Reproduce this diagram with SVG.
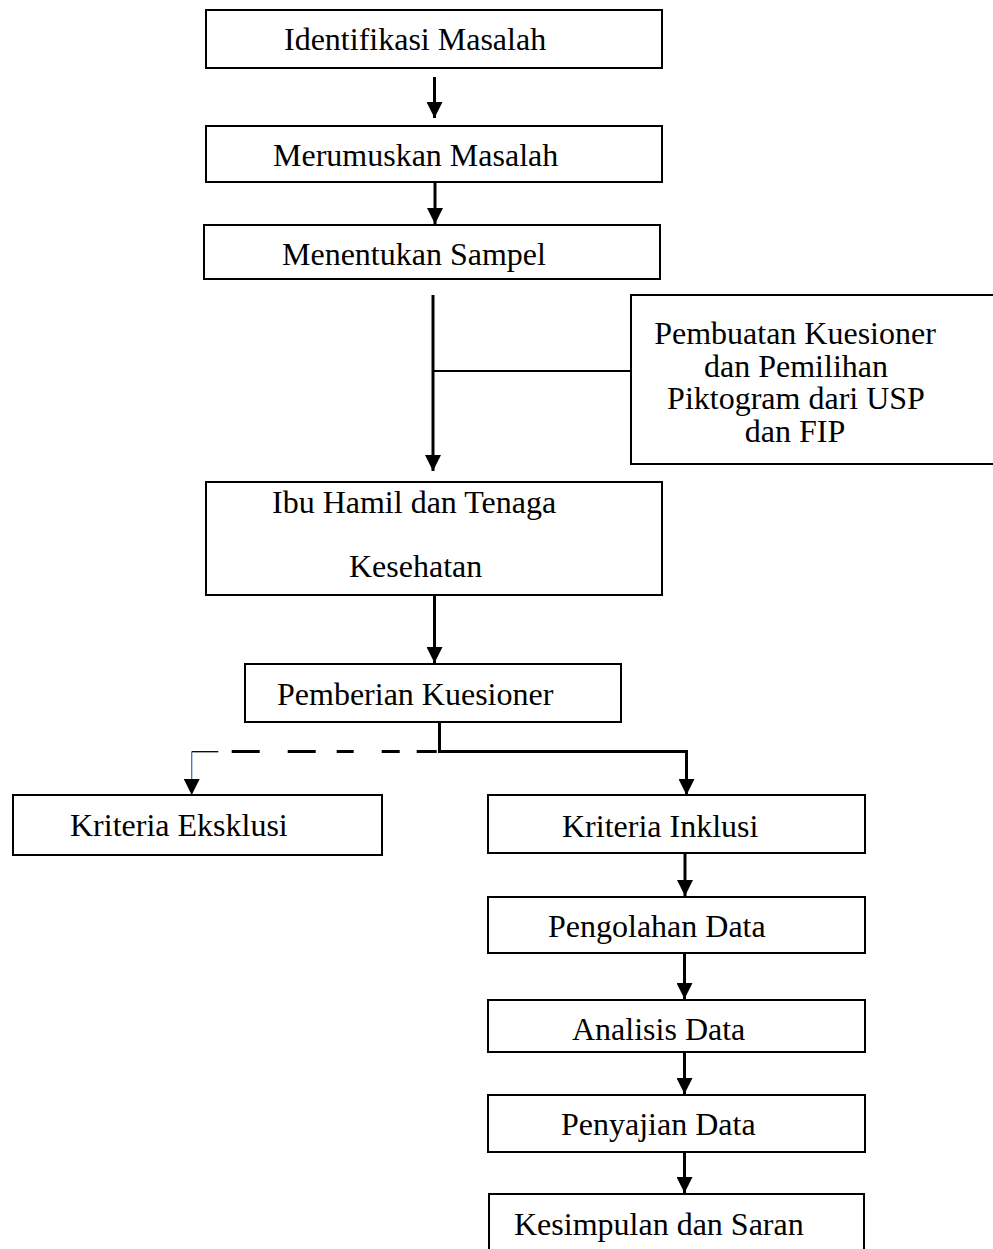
<svg xmlns="http://www.w3.org/2000/svg" width="993" height="1249" viewBox="0 0 993 1249">
<style>
.box{fill:#fff;stroke:#000;stroke-width:2}
.t{font-family:"Liberation Serif","Times New Roman",serif;font-size:32px;fill:#000}
.c{fill:none;stroke:#000;stroke-width:3}
.thin{fill:none;stroke:#000;stroke-width:1.3}
</style>
<defs>
<marker id="ah" markerUnits="userSpaceOnUse" markerWidth="16" markerHeight="16" refX="16" refY="8" orient="auto">
<path d="M0,0 L16,8 L0,16 z" fill="#000"/>
</marker>
</defs>
<rect width="993" height="1249" fill="#fff"/>
<g id="connectors">
<line class="c" x1="434.5" y1="77" x2="434.5" y2="118" marker-end="url(#ah)"/>
<line class="c" x1="435" y1="182" x2="435" y2="224" marker-end="url(#ah)"/>
<line class="c" x1="433" y1="295" x2="433" y2="471" marker-end="url(#ah)"/>
<line class="c" style="stroke-width:2" x1="433" y1="371" x2="631" y2="371"/>
<line class="c" x1="434.5" y1="595" x2="434.5" y2="663" marker-end="url(#ah)"/>
<path class="c" d="M439.5,722 V751.5 H686.5 V795" marker-end="url(#ah)"/>
<path class="c" d="M231.7,751.5 H437" stroke-dasharray="28 28 28 21 17 28 18 17 20 10"/>
<path class="thin" d="M218.3,751.7 H191.7"/>
<path class="thin" style="stroke:#4472C4" d="M191.7,751.7 V795" marker-end="url(#ah)"/>
<line class="c" x1="685" y1="854" x2="685" y2="896" marker-end="url(#ah)"/>
<line class="c" x1="684.5" y1="953" x2="684.5" y2="999" marker-end="url(#ah)"/>
<line class="c" x1="684.5" y1="1052" x2="684.5" y2="1094" marker-end="url(#ah)"/>
<line class="c" x1="684.5" y1="1152" x2="684.5" y2="1193" marker-end="url(#ah)"/>
</g>
<g id="n1"><rect class="box" x="206" y="10" width="456" height="58"/><text class="t" x="284" y="50">Identifikasi Masalah</text></g>
<g id="n2"><rect class="box" x="206" y="126" width="456" height="56"/><text class="t" x="273" y="166">Merumuskan Masalah</text></g>
<g id="n3"><rect class="box" x="204" y="225" width="456" height="54"/><text class="t" x="282" y="265">Menentukan Sampel</text></g>
<g id="n4"><rect class="box" x="631" y="295" width="400" height="169"/>
<text class="t" text-anchor="middle"><tspan x="795" y="344">Pembuatan Kuesioner</tspan><tspan x="796" y="377">dan Pemilihan</tspan><tspan x="796" y="409">Piktogram dari USP</tspan><tspan x="795" y="442">dan FIP</tspan></text></g>
<g id="n5"><rect class="box" x="206" y="482" width="456" height="113"/><text class="t" x="272" y="513">Ibu Hamil dan Tenaga</text><text class="t" x="349" y="577">Kesehatan</text></g>
<g id="n6"><rect class="box" x="245" y="664" width="376" height="58"/><text class="t" x="277" y="705">Pemberian Kuesioner</text></g>
<g id="n7"><rect class="box" x="13" y="795" width="369" height="60"/><text class="t" x="70" y="836">Kriteria Eksklusi</text></g>
<g id="n8"><rect class="box" x="488" y="795" width="377" height="58"/><text class="t" x="562" y="837">Kriteria Inklusi</text></g>
<g id="n9"><rect class="box" x="488" y="897" width="377" height="56"/><text class="t" x="548" y="937">Pengolahan Data</text></g>
<g id="n10"><rect class="box" x="488" y="1000" width="377" height="52"/><text class="t" x="572" y="1040">Analisis Data</text></g>
<g id="n11"><rect class="box" x="488" y="1095" width="377" height="57"/><text class="t" x="561" y="1135">Penyajian Data</text></g>
<g id="n12"><rect class="box" x="489" y="1194" width="375" height="80"/><text class="t" x="514" y="1235">Kesimpulan dan Saran</text></g>
</svg>
